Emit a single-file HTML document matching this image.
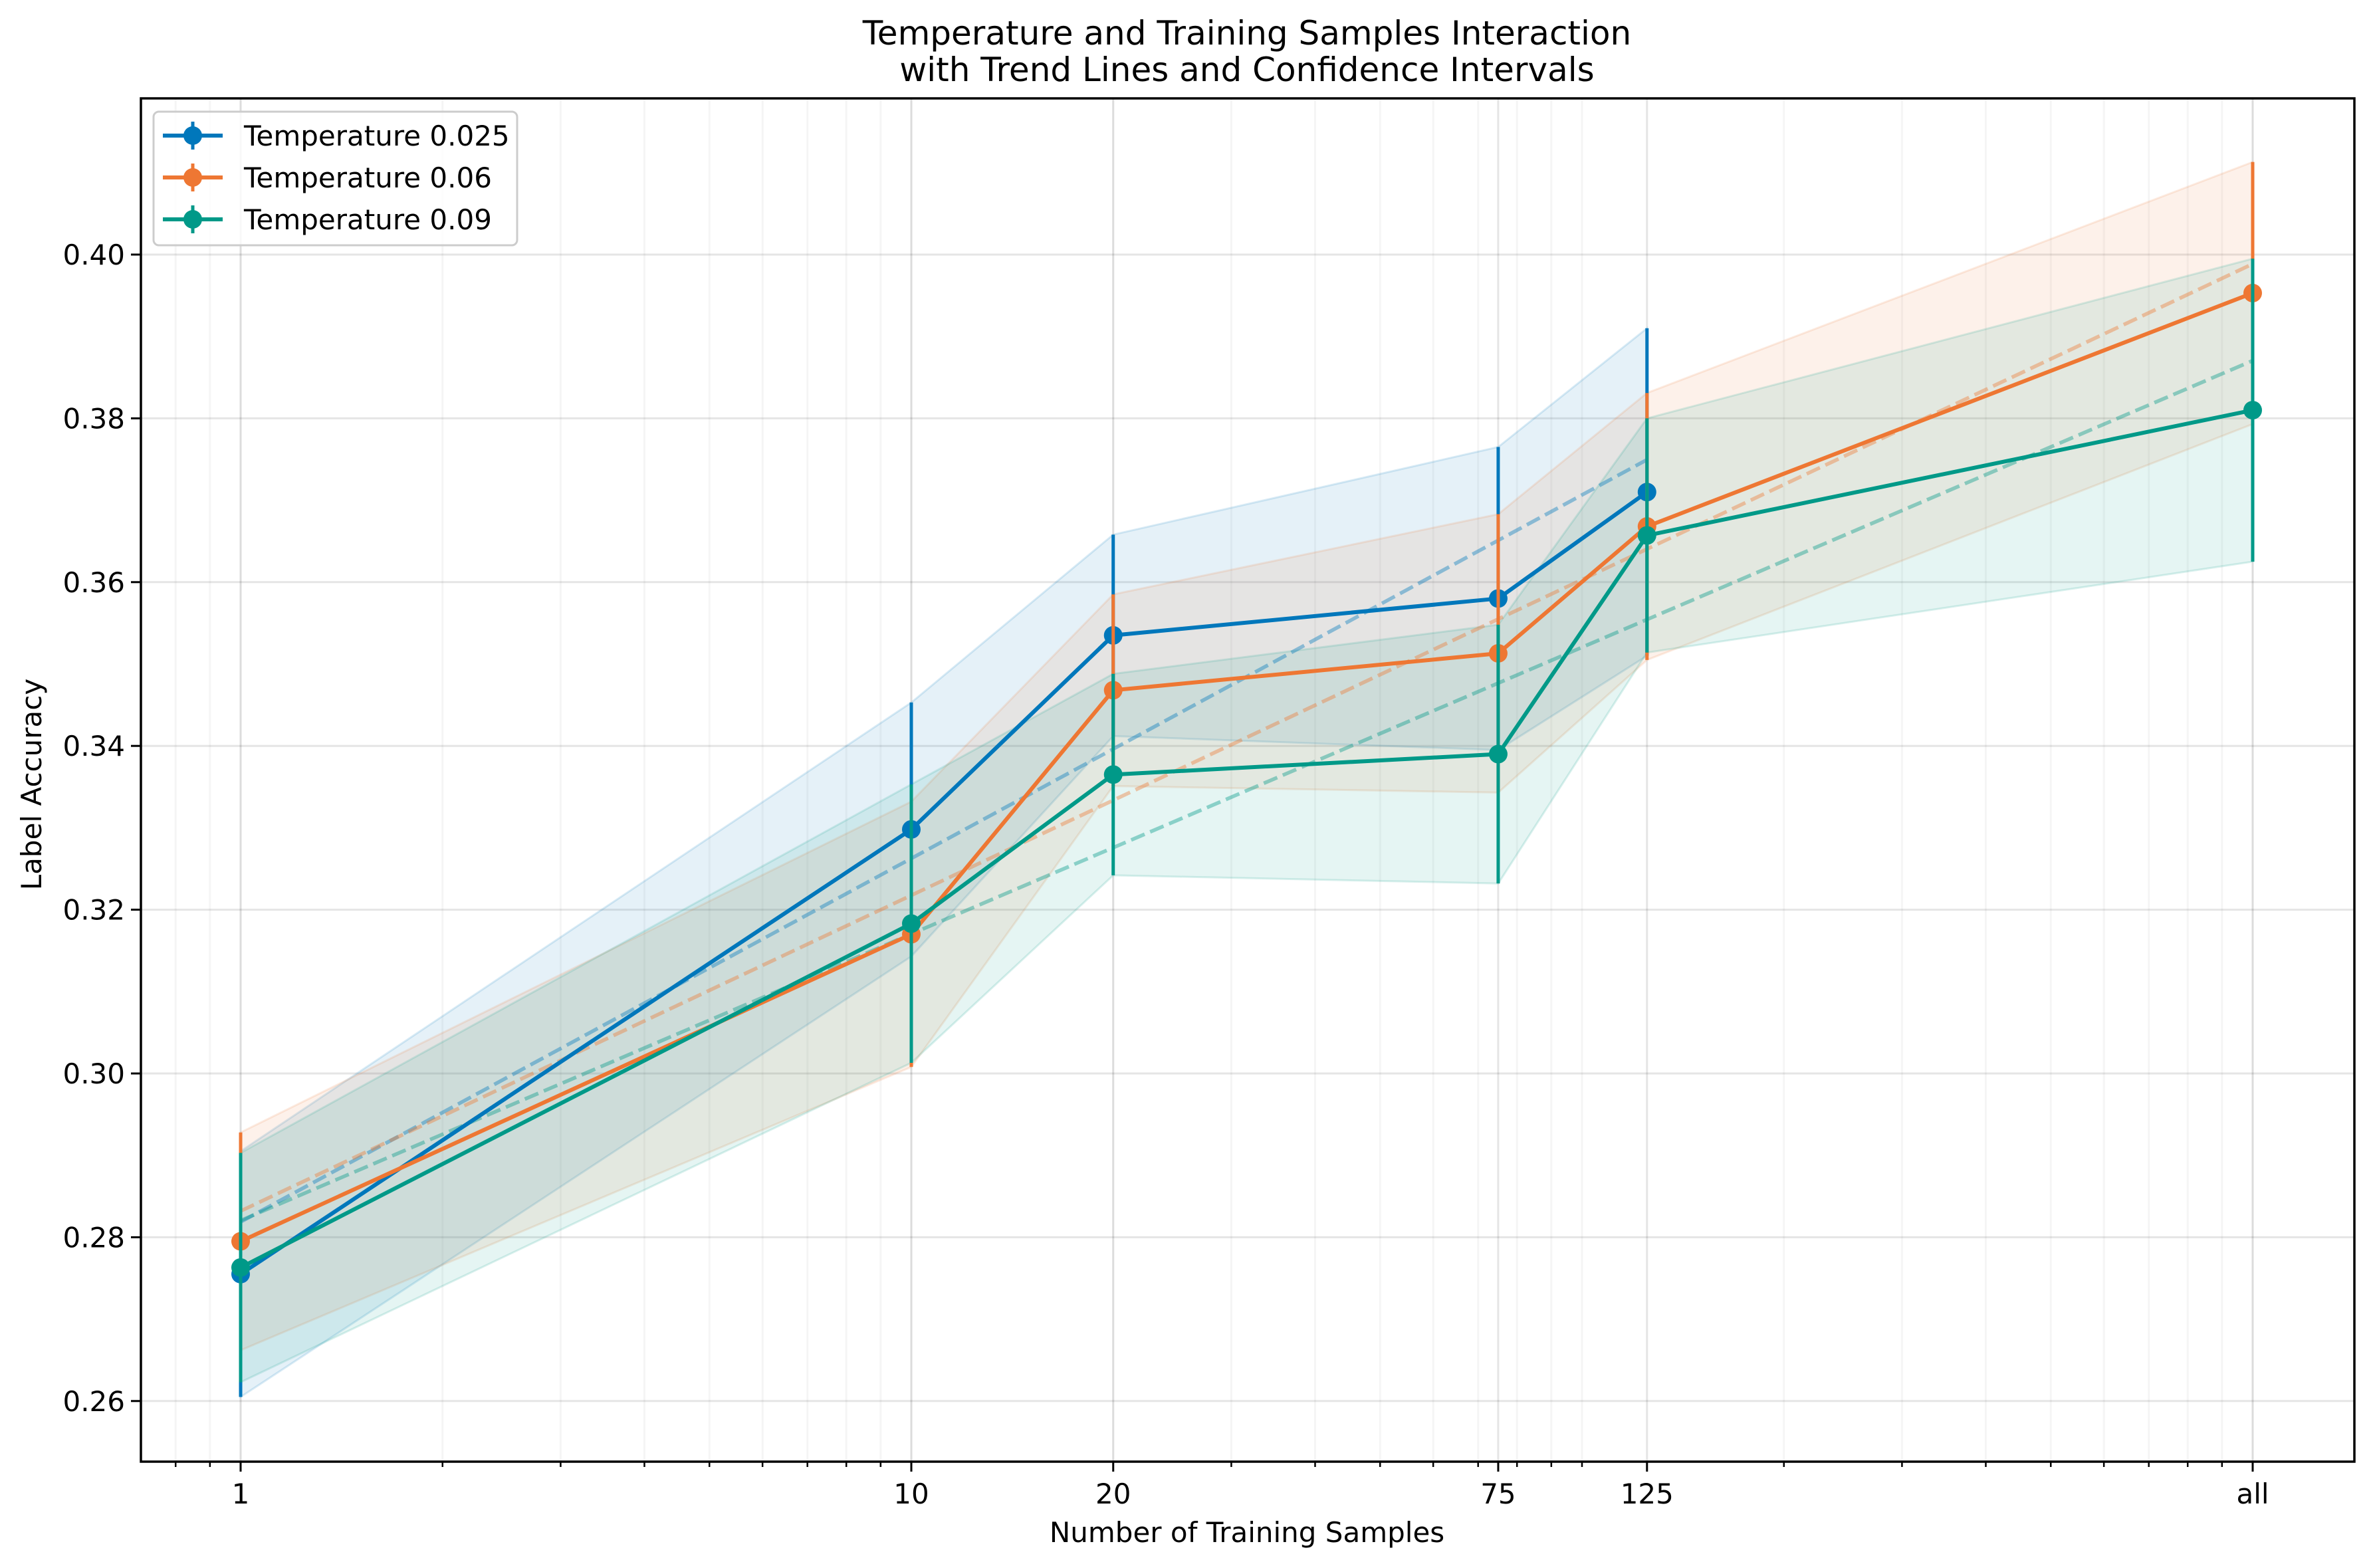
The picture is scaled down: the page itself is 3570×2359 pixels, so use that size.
<!DOCTYPE html>
<html><head><meta charset="utf-8"><style>
html,body{margin:0;padding:0;background:#fff;}
svg{display:block;font-family:"DejaVu Sans","Liberation Sans",sans-serif;}
</style></head><body>
<svg id="chart" width="3570" height="2359" viewBox="0 0 3570 2359" xmlns="http://www.w3.org/2000/svg">
<rect x="0" y="0" width="3570" height="2359" fill="#fff"/>
<text x="1876" y="67" text-anchor="middle" font-size="50">Temperature and Training Samples Interaction</text>
<text x="1876" y="122" text-anchor="middle" font-size="50">with Trend Lines and Confidence Intervals</text>
<text x="1876" y="2320" text-anchor="middle" font-size="42">Number of Training Samples</text>
<text x="0" y="0" transform="translate(62,1180) rotate(-90)" text-anchor="middle" font-size="42">Label Accuracy</text>
<g id="grid"></g>
<g id="bands"></g>
<g id="trends"></g>
<g id="series"></g>
<g id="axes"></g>
<g id="legend"></g>
</svg>
<script>
const xCategories = ["1","10","20","75","125","all"];
const xValues = [1,10,20,75,125,1000];
const yTicks = [0.26,0.28,0.30,0.32,0.34,0.36,0.38,0.40];
const seriesNames = ["Temperature 0.025","Temperature 0.06","Temperature 0.09"];
const meanT025 = [0.2755,0.3298,0.3535,0.3580,0.3710,null];
const errT025 = [0.0150,0.0155,0.0123,0.0185,0.0200,null];
const meanT06 = [0.2795,0.3170,0.3468,0.3513,0.3668,0.3953];
const errT06 = [0.0133,0.0162,0.0117,0.0170,0.0163,0.0160];
const meanT09 = [0.2763,0.3183,0.3365,0.3390,0.3657,0.3810];
const errT09 = [0.0140,0.0170,0.0123,0.0158,0.0143,0.0185];

const NS="http://www.w3.org/2000/svg";
const L=212,R=3542,T=148,B=2199;
const decade=1009;
function xs(v){return 362+Math.log10(v)*decade;}
function ys(v){return 383+(0.40-v)*12320;}
function mk(tag,attrs,parent){const e=document.createElementNS(NS,tag);for(const k in attrs)e.setAttribute(k,attrs[k]);parent.appendChild(e);return e;}
const grid=document.getElementById('grid'),bands=document.getElementById('bands'),trends=document.getElementById('trends'),ser=document.getElementById('series'),axes=document.getElementById('axes'),leg=document.getElementById('legend');

const minors=[];
for(let d=-1;d<=3;d++)for(let k=1;k<=9;k++){const v=k*Math.pow(10,d);const px=xs(v);if(px>L+1&&px<R-1)minors.push(v);}
minors.forEach(v=>{
  const g=mk('line',{x1:xs(v),x2:xs(v),y1:T,y2:B,stroke:'#000','stroke-opacity':0.04,'stroke-width':3},grid);
  
  
  const t=mk('line',{x1:xs(v),x2:xs(v),y1:B,y2:B+8,stroke:'#000','stroke-width':2.5},axes);
  
  
});
xValues.forEach((v,i)=>{
  const g=mk('line',{x1:xs(v),x2:xs(v),y1:T,y2:B,stroke:'#000','stroke-opacity':0.1,'stroke-width':3},grid);
  
  
  const t=mk('line',{x1:xs(v),x2:xs(v),y1:B,y2:B+15,stroke:'#000','stroke-width':3},axes);
  
  
  const lb=mk('text',{x:xs(v),y:2262,'text-anchor':'middle','font-size':42},axes);
  lb.textContent=xCategories[i];
  
  
});
yTicks.forEach(v=>{
  const g=mk('line',{x1:L,x2:R,y1:ys(v),y2:ys(v),stroke:'#000','stroke-opacity':0.1,'stroke-width':3},grid);
  
  
  const t=mk('line',{x1:L-15,x2:L,y1:ys(v),y2:ys(v),stroke:'#000','stroke-width':3},axes);
  
  
  const lb=mk('text',{x:L-24,y:ys(v)+15,'text-anchor':'end','font-size':42},axes);
  lb.textContent=v.toFixed(2);
  
  
});
const frame=mk('rect',{x:L,y:T,width:R-L,height:B-T,fill:'none',stroke:'#000','stroke-width':3.5},axes);



const colors=['#0077BB','#EE7733','#009988'];
const means=[meanT025,meanT06,meanT09], errs=[errT025,errT06,errT09];
means.forEach((m,si)=>{
  const c=colors[si], e=errs[si];
  const idx=m.map((v,i)=>v==null?-1:i).filter(i=>i>=0);
  let up=idx.map(i=>xs(xValues[i])+','+ys(m[i]+e[i]));
  let dn=idx.slice().reverse().map(i=>xs(xValues[i])+','+ys(m[i]-e[i]));
  const band=mk('polygon',{points:up.concat(dn).join(' '),fill:c,'fill-opacity':0.1,stroke:c,'stroke-opacity':0.15,'stroke-width':3},bands);
  
  
  const lx=idx.map(i=>Math.log10(xValues[i])), ly=idx.map(i=>m[i]);
  const mx=lx.reduce((a,b)=>a+b)/lx.length, my=ly.reduce((a,b)=>a+b)/ly.length;
  let sxy=0,sxx=0;lx.forEach((x,k)=>{sxy+=(x-mx)*(ly[k]-my);sxx+=(x-mx)*(x-mx);});
  const sl=sxy/sxx, ic=my-sl*mx;
  const x0=xValues[idx[0]], x1=xValues[idx[idx.length-1]];
  const tr=mk('line',{x1:xs(x0),y1:ys(ic+sl*Math.log10(x0)),x2:xs(x1),y2:ys(ic+sl*Math.log10(x1)),stroke:c,'stroke-opacity':0.4,'stroke-width':5.5,'stroke-dasharray':'22 9'},trends);
  
  
  const g=mk('g',{},ser);
  
  
  idx.forEach(i=>{
    const eb=mk('line',{x1:xs(xValues[i]),x2:xs(xValues[i]),y1:ys(m[i]-e[i]),y2:ys(m[i]+e[i]),stroke:c,'stroke-width':5},g);
    
    
  });
  const pl=mk('polyline',{points:idx.map(i=>xs(xValues[i])+','+ys(m[i])).join(' '),fill:'none',stroke:c,'stroke-width':6,'stroke-linejoin':'round'},g);
  
  
  idx.forEach(i=>{
    const p=mk('circle',{cx:xs(xValues[i]),cy:ys(m[i]),r:14,fill:c},g);
    
    
  });
});

const lbox=mk('rect',{x:231,y:168,width:547,height:201,rx:8,fill:'#fff','fill-opacity':0.8,stroke:'#ccc','stroke-width':3},leg);


const lys=[204,267,330];
seriesNames.forEach((n,i)=>{
  const g=mk('g',{},leg);
  
  
  mk('line',{x1:245,x2:335,y1:lys[i],y2:lys[i],stroke:colors[i],'stroke-width':6},g);
  mk('line',{x1:290,x2:290,y1:lys[i]-21,y2:lys[i]+21,stroke:colors[i],'stroke-width':5},g);
  mk('circle',{cx:290,cy:lys[i],r:14,fill:colors[i]},g);
  const t=mk('text',{x:367,y:lys[i]+15,'font-size':42},g);
  t.textContent=n;
  
  
});
</script>
</body></html>
